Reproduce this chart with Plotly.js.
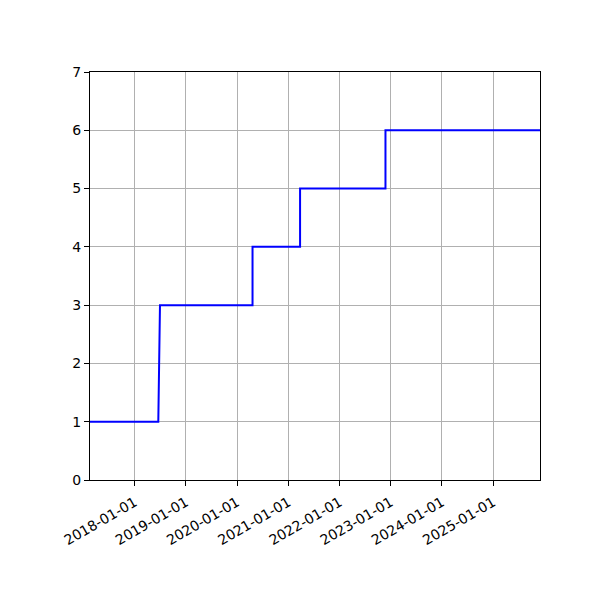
<!DOCTYPE html>
<html>
<head>
<meta charset="utf-8">
<script src="https://cdn.plot.ly/plotly-3.0.1.min.js"></script>
<style>
  body { margin: 0; background: #fff; }
  #chart { width: 600px; height: 600px; }
</style>
</head>
<body>
<div id="chart"></div>
<script>
// dates des changements de valeur (chaque palier commence et finit)
var dates = ['2017-02-16', '2018-06-18', '2018-06-30', '2020-04-20', '2020-04-20',
             '2021-03-25', '2021-03-25', '2022-11-24', '2022-11-24', '2025-11-30'];
var valeurs = [1, 1, 3, 3, 4, 4, 5, 5, 6, 6];

var yTicks = [0, 1, 2, 3, 4, 5, 6, 7];
var xTicks = ['2018-01-01', '2019-01-01', '2020-01-01', '2021-01-01',
              '2022-01-01', '2023-01-01', '2024-01-01', '2025-01-01'];

var trace = {
  x: dates,
  y: valeurs,
  type: 'scatter',
  mode: 'lines',
  line: { color: '#0000ff', width: 2 },
  hoverinfo: 'skip'
};

var axeCommun = {
  showline: true,
  linecolor: '#000',
  linewidth: 1,
  mirror: true,
  ticks: 'outside',
  ticklen: 5,
  tickwidth: 1,
  tickcolor: '#000',
  showgrid: true,
  gridcolor: '#b0b0b0',
  gridwidth: 1,
  zeroline: false,
  tickfont: { family: 'DejaVu Sans', size: 14, color: '#000' }
};

var layout = {
  width: 600,
  height: 600,
  margin: { l: 90, r: 60, t: 72, b: 120 },
  paper_bgcolor: '#fff',
  plot_bgcolor: '#fff',
  showlegend: false,
  xaxis: Object.assign({}, axeCommun, {
    type: 'date',
    range: [dates[0], dates[dates.length - 1]],
    tickmode: 'array',
    tickvals: xTicks,
    ticktext: xTicks,
    tickangle: -30,
    ticklabelstandoff: 3
  }),
  yaxis: Object.assign({}, axeCommun, {
    range: [0, 7],
    tickmode: 'array',
    tickvals: yTicks,
    ticktext: yTicks.map(String)
  })
};

Plotly.newPlot('chart', [trace], layout, { displayModeBar: false, staticPlot: true });
</script>
</body>
</html>
